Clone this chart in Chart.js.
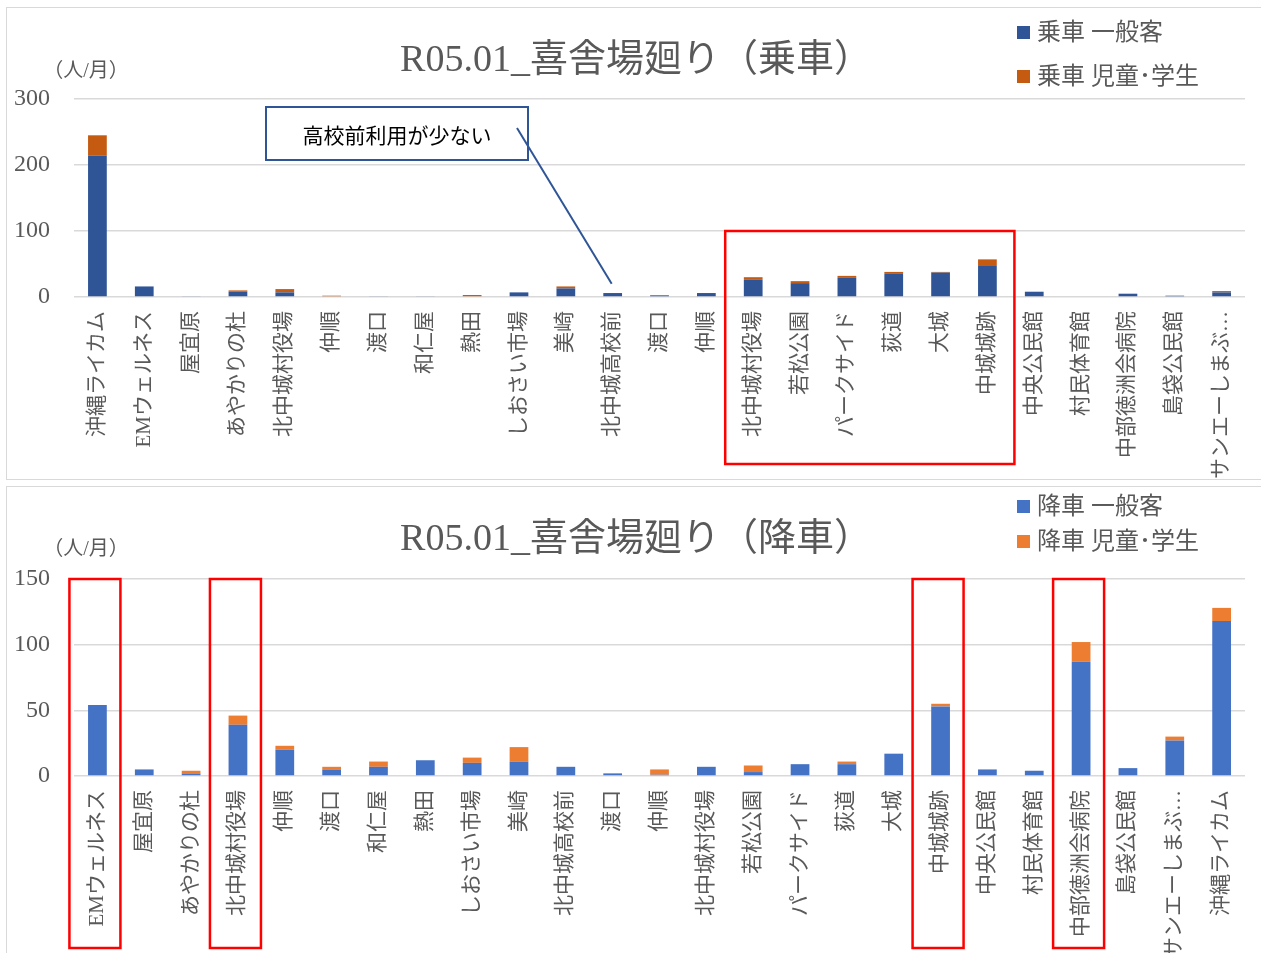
<!DOCTYPE html>
<html><head><meta charset="utf-8">
<script src="https://cdn.jsdelivr.net/npm/chart.js@4.4.1/dist/chart.umd.min.js"></script>
<style>
html,body{margin:0;padding:0;background:#fff;width:1261px;height:953px;overflow:hidden;}
.panel{position:absolute;border:1px solid #d9d9d9;box-sizing:border-box;}
.wrap{position:absolute;left:0;width:1261px;}
.t{position:absolute;white-space:nowrap;color:#595959;font-family:'Liberation Serif','Noto Sans CJK JP',serif;line-height:1;}
.title{font-size:38px;transform:translate(-50%,-50%);}
.unit{font-size:20px;transform:translate(-50%,-50%);}
.leg{font-size:24px;transform:translateY(-50%);}
.box{position:absolute;width:13px;height:13px;}
.callout{position:absolute;left:265px;top:106px;width:264px;height:55px;border:2px solid #2F5597;box-sizing:border-box;display:flex;align-items:center;justify-content:center;font-family:'Noto Sans CJK JP',sans-serif;font-size:21px;color:#000;}
</style>
</head><body>
<div class="panel" style="left:6px;top:7px;width:1262px;height:473px;"></div>
<div class="panel" style="left:6px;top:486px;width:1262px;height:475px;"></div>
<div class="wrap" style="top:0;height:480px;"><canvas id="c1" width="1261" height="480"></canvas></div>
<div class="wrap" style="top:480px;height:473px;"><canvas id="c2" width="1261" height="473"></canvas></div>

<div class="t title" style="left:636px;top:58px;">R05.01_喜舎場廻り（乗車）</div>
<div class="t unit" style="left:86px;top:70px;">（人/月）</div>
<div class="box" id="lb1" style="left:1017px;top:26px;"></div>
<div class="t leg" id="lt1" style="left:1037px;top:32px;"></div>
<div class="box" id="lb2" style="left:1017px;top:70px;"></div>
<div class="t leg" id="lt2" style="left:1037px;top:76px;"></div>
<div class="callout">高校前利用が少ない</div>

<div class="t title" style="left:636px;top:537px;">R05.01_喜舎場廻り（降車）</div>
<div class="t unit" style="left:86px;top:548px;">（人/月）</div>
<div class="box" id="lb3" style="left:1017px;top:500px;"></div>
<div class="t leg" id="lt3" style="left:1037px;top:506px;"></div>
<div class="box" id="lb4" style="left:1017px;top:535px;"></div>
<div class="t leg" id="lt4" style="left:1037px;top:541px;"></div>

<script>
// ---- data ----
const boardingStops = ['沖縄ライカム','EMウェルネス','屋宜原','あやかりの杜','北中城村役場','仲順','渡口','和仁屋','熱田','しおさい市場','美崎','北中城高校前','渡口','仲順','北中城村役場','若松公園','パークサイド','荻道','大城','中城城跡','中央公民館','村民体育館','中部徳洲会病院','島袋公民館','サンエーしまぶ…'];
const boardingGeneral = [214,16,1,8,7,0,1,1,0,7,13,6,2,6,26,21,29,35,37,47,8,0,5,2,7];
const boardingStudent = [31,0,0,2,5,2,0,0,3,0,3,0,1,0,4,3,3,3,1,10,0,0,0,0,2];
const boardingTicks = [0,100,200,300];

const alightingStops = ['EMウェルネス','屋宜原','あやかりの杜','北中城村役場','仲順','渡口','和仁屋','熱田','しおさい市場','美崎','北中城高校前','渡口','仲順','北中城村役場','若松公園','パークサイド','荻道','大城','中城城跡','中央公民館','村民体育館','中部徳洲会病院','島袋公民館','サンエーしまぶ…','沖縄ライカム'];
const alightingGeneral = [54,5,2,39,20,5,7,12,10,11,7,2,1,7,3,9,9,17,53,5,4,87,6,27,118];
const alightingStudent = [0,0,2,7,3,2,4,0,4,11,0,0,4,0,5,0,2,0,2,0,0,15,0,3,10];
const alightingTicks = [0,50,100,150];

const seriesNamesTop = ['乗車 一般客','乗車 児童･学生'];
const seriesNamesBottom = ['降車 一般客','降車 児童･学生'];
// ---- styles ----
const colorsTop = ['#2F5597','#C55A11'];
const colorsBottom = ['#4472C4','#ED7D31'];

const overlayPlugin = {
  id:'overlay',
  afterDraw(chart, args, opts){
    const ctx = chart.ctx, xs = chart.scales.x, ys = chart.scales.y;
    ctx.save();
    ctx.strokeStyle = '#FF0000';
    ctx.lineWidth = 2.5;
    (opts.boxes||[]).forEach(b=>{
      const x0 = xs.getPixelForValue(b.from) + b.dl;
      const x1 = xs.getPixelForValue(b.to) + b.dr;
      const y0 = b.topValue!=null ? ys.getPixelForValue(b.topValue) : chart.chartArea.top;
      ctx.strokeRect(x0, y0, x1-x0, b.bottom - y0);
    });
    if (opts.callout){
      const c = opts.callout;
      ctx.strokeStyle = '#2F5597';
      ctx.lineWidth = 2;
      ctx.beginPath();
      ctx.moveTo(c.sx, c.sy);
      ctx.lineTo(xs.getPixelForValue(c.index)-1, ys.getPixelForValue(c.value));
      ctx.stroke();
    }
    ctx.restore();
  }
};

function makeChart(id, labels, gen, stu, colors, names, ticks, xAxisHeight, overlay){
  const fam = "'Liberation Serif','Noto Sans CJK JP',serif";
  return new Chart(document.getElementById(id), {
    type:'bar',
    data:{labels:labels, datasets:[
      {label:names[0], data:gen, backgroundColor:colors[0], barPercentage:0.4, categoryPercentage:1},
      {label:names[1], data:stu, backgroundColor:colors[1], barPercentage:0.4, categoryPercentage:1}
    ]},
    options:{
      responsive:false, animation:false, devicePixelRatio:1,
      layout:{padding:{top:99,right:9,left:0,bottom:0}},
      plugins:{legend:{display:false}, title:{display:false}, tooltip:{enabled:false}, overlay:overlay},
      scales:{
        x:{stacked:true, grid:{display:false, drawTicks:false}, border:{display:false},
           ticks:{autoSkip:false, maxRotation:90, minRotation:90, padding:14, color:'#595959', font:{family:fam, size:21}},
           afterFit(s){ s.height = xAxisHeight; }},
        y:{stacked:true, min:ticks[0], max:ticks[ticks.length-1],
           ticks:{stepSize:ticks[1]-ticks[0], padding:24, color:'#595959', font:{family:"'Liberation Serif',serif", size:24}},
           grid:{color:'#d9d9d9', lineWidth:1.5, drawTicks:false}, border:{display:false},
           afterFit(s){ s.width = 74; }}
      }
    },
    plugins:[overlayPlugin]
  });
}

makeChart('c1', boardingStops, boardingGeneral, boardingStudent, colorsTop, seriesNamesTop, boardingTicks, 183, {
  boxes:[{from:14, to:19, dl:-28, dr:27, topValue:100, bottom:464}],
  callout:{sx:517, sy:128, index:11, value:20}
});
makeChart('c2', alightingStops, alightingGeneral, alightingStudent, colorsBottom, seriesNamesBottom, alightingTicks, 177, {
  boxes:[
    {from:0, to:0, dl:-28, dr:23, bottom:468},
    {from:3, to:3, dl:-28, dr:23, bottom:468},
    {from:18, to:18, dl:-28, dr:23, bottom:468},
    {from:21, to:21, dl:-28, dr:23, bottom:468}
  ]
});

// HTML legends
[['lb1','lt1',colorsTop[0],seriesNamesTop[0]],['lb2','lt2',colorsTop[1],seriesNamesTop[1]],
 ['lb3','lt3',colorsBottom[0],seriesNamesBottom[0]],['lb4','lt4',colorsBottom[1],seriesNamesBottom[1]]].forEach(a=>{
  document.getElementById(a[0]).style.background = a[2];
  document.getElementById(a[1]).textContent = a[3];
});
</script>
</body></html>
